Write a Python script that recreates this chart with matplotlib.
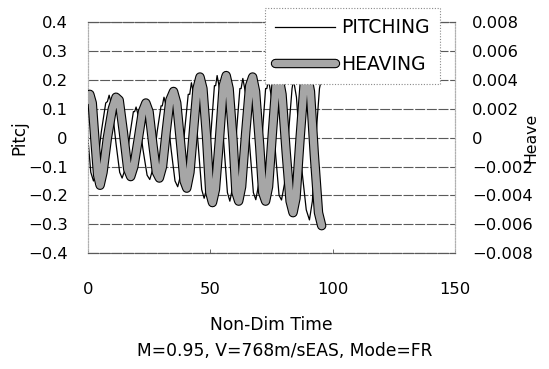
import matplotlib
matplotlib.use("Agg")
import matplotlib.pyplot as plt
import matplotlib.patheffects as pe
from matplotlib.ticker import FuncFormatter, MultipleLocator

# --- flutter time history: pitch (left axis) and heave (right axis) ---
pitch_t = [0.0, 1.2, 2.3, 3.5, 5.5, 7.3, 8.0, 8.7, 9.8, 11.5, 13.0, 14.0, 15.2,
           17.0, 18.6, 19.1, 19.7, 20.8, 22.5, 24.2, 25.3, 26.5, 28.3, 29.9, 30.4,
           31.1, 32.3, 34.0, 35.6, 36.7, 37.9, 39.6, 41.0, 41.6, 42.3, 43.5, 45.2,
           46.5, 47.5, 48.7, 50.3, 51.7, 52.2, 52.8, 54.0, 55.6, 57.0, 58.0, 59.2,
           60.8, 62.1, 62.6, 63.3, 64.5, 66.2, 67.6, 68.6, 69.8, 71.4, 72.6, 73.1,
           73.8, 75.0, 76.7, 78.1, 79.1, 80.3, 82.0, 83.4, 84.0, 85.2, 87.0, 89.2,
           90.5, 91.7, 93.3, 94.6, 95.3]
pitch_v = [0.0, -0.12, -0.15, -0.12, 0.02, 0.12, 0.125, 0.147, 0.11, -0.02, -0.12, -0.14, -0.11,
           0.0, 0.09, 0.09, 0.106, 0.07, -0.04, -0.13, -0.145, -0.11, 0.02, 0.11, 0.11,
           0.14, 0.10, -0.04, -0.15, -0.17, -0.13, 0.03, 0.15, 0.15, 0.19, 0.14, -0.04,
           -0.18, -0.21, -0.17, 0.02, 0.18, 0.18, 0.215, 0.16, -0.03, -0.19, -0.22, -0.17,
           0.03, 0.17, 0.17, 0.205, 0.15, -0.04, -0.19, -0.215, -0.16, 0.03, 0.17, 0.17,
           0.20, 0.14, -0.06, -0.20, -0.216, -0.16, 0.02, 0.17, 0.20, 0.14, -0.08, -0.25,
           -0.285, -0.22, 0.02, 0.17, 0.20]

heave_t = [0.0, 0.8, 1.8, 3.0, 4.0, 5.0, 6.2, 8.0, 10.0, 11.5, 12.8, 14.5, 16.3,
           17.5, 18.8, 20.5, 22.3, 23.7, 25.0, 26.5, 28.0, 29.2, 30.5, 32.0, 33.5,
           35.0, 36.3, 38.0, 39.3, 40.4, 41.7, 43.2, 44.6, 45.8, 47.0, 48.5, 49.8,
           50.9, 52.1, 53.8, 55.3, 56.5, 57.7, 59.3, 60.5, 61.6, 62.8, 64.5, 66.1,
           67.3, 68.5, 70.2, 71.4, 72.6, 73.8, 75.4, 76.8, 78.0, 79.3, 81.0, 82.6,
           83.8, 85.0, 86.7, 88.3, 89.6, 90.9, 92.5, 94.2, 95.5]
heave_v = [0.0026, 0.0030, 0.0024, -0.0004, -0.0026, -0.0033, -0.0024, 0.0000, 0.0020,
           0.0028, 0.0026, 0.0004, -0.0022, -0.0027, -0.0020, -0.0002, 0.0018, 0.0024,
           0.0018, -0.0004, -0.0024, -0.0028, -0.0020, 0.0004, 0.0026, 0.0032, 0.0024,
           -0.0006, -0.0030, -0.0035, -0.0024, 0.0006, 0.0034, 0.0042, 0.0034, 0.0000,
           -0.0038, -0.0045, -0.0036, 0.0000, 0.0036, 0.0043, 0.0034, -0.0002, -0.0038,
           -0.0044, -0.0034, 0.0004, 0.0036, 0.0042, 0.0032, -0.0006, -0.0038, -0.0044,
           -0.0034, 0.0004, 0.0036, 0.0042, 0.0030, -0.0010, -0.0044, -0.0052, -0.0042,
           0.0000, 0.0036, 0.0044, 0.0032, -0.0012, -0.0052, -0.0061]

x_ticks = [0, 50, 100, 150]
subtitle = "M=0.95, V=768m/sEAS, Mode=FR"

plt.rcParams['font.family'] = ['DejaVu Sans']
plt.rcParams['axes.unicode_minus'] = True

fig = plt.figure(figsize=(5.49, 3.69), dpi=100)
ax = fig.add_axes([0.160, 0.314, 0.669, 0.626])
ax2 = ax.twinx()

# pitch: thin black line
line_p, = ax.plot(pitch_t, pitch_v, color='black', lw=0.9, zorder=3)

# heave: thick grey band with black edge
band = [pe.Stroke(linewidth=6.8, foreground='black'), pe.Normal()]
line_h, = ax2.plot(heave_t, heave_v, color='#a6a6a6', lw=5.2,
                   solid_joinstyle='round', solid_capstyle='round',
                   path_effects=band, zorder=3)

ax.set_xlim(0, 150)
ax.set_ylim(-0.4, 0.4)
ax2.set_ylim(-0.008, 0.008)
ax.set_xticks(x_ticks)
ax.yaxis.set_major_locator(MultipleLocator(0.1))
ax2.yaxis.set_major_locator(MultipleLocator(0.002))


def fmt(digits):
    def f(v, pos):
        if abs(v) < 1e-12:
            return "0"
        return ("{:.%df}" % digits).format(v).replace("-", "\u2212")
    return f


ax.yaxis.set_major_formatter(FuncFormatter(fmt(1)))
ax2.yaxis.set_major_formatter(FuncFormatter(fmt(3)))

ax.grid(axis='y', color='#5a5a5a', lw=0.8, linestyle=(0, (9, 1.5)))
ax.set_axisbelow(True)

for a in (ax, ax2):
    for side in ('left', 'right'):
        a.spines[side].set_color('#b0b0b0')
        a.spines[side].set_linestyle((0, (1, 1.5)))
        a.spines[side].set_linewidth(0.8)
    for side in ('top', 'bottom'):
        a.spines[side].set_color('#5a5a5a')
        a.spines[side].set_linestyle((0, (9, 1.5)))
        a.spines[side].set_linewidth(0.8)

ax.tick_params(axis='x', direction='in', length=3, width=0.6, color='#555555',
               pad=21, labelsize=11.8)
ax.tick_params(axis='y', length=0, pad=14.5, labelsize=11.8)
ax2.tick_params(axis='y', length=0, pad=12, labelsize=11.8)

ax.set_ylabel("Pitcj", fontsize=12)
ax.yaxis.set_label_coords(-0.163, 0.5)
ax2.set_ylabel("Heave", fontsize=11.3)
ax2.yaxis.set_label_coords(1.185, 0.5)

ax.set_xlabel("Non-Dim Time", fontsize=12.3)
ax.xaxis.set_label_coords(0.5, -0.273)
fig.text(285 / 549, 1 - 350.5 / 369, subtitle, fontsize=12.3, ha='center', va='center')

leg = ax2.legend([line_p, line_h], ["PITCHING", "HEAVING"],
                 loc='upper left', bbox_to_anchor=(265 / 549, 1 - 8 / 369),
                 bbox_transform=fig.transFigure, fontsize=13.5,
                 frameon=True, fancybox=False, framealpha=1, edgecolor='#8a8a8a',
                 borderaxespad=0, borderpad=0.55, handlelength=3.2,
                 handletextpad=0.3, labelspacing=0.92)
leg.get_frame().set_linestyle((0, (1, 1.5)))
leg.get_frame().set_linewidth(0.8)
leg.set_zorder(10)

fig.savefig("out.png", dpi=100, facecolor='white')
